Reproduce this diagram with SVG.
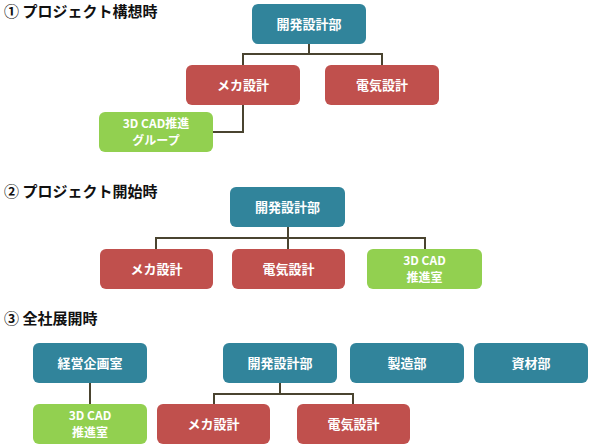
<svg xmlns="http://www.w3.org/2000/svg" width="590" height="446" viewBox="0 0 590 446">
<style>
.t{font-family:"Noto Sans CJK JP","Noto Sans",sans-serif;font-weight:bold;font-size:15px;fill:#111}
.n text{font-family:"Noto Sans CJK JP","Noto Sans",sans-serif;font-weight:bold;font-size:13px;fill:#fff;text-anchor:middle}
.n text.two{font-size:12px}
.b rect{fill:#31849B}
.r rect{fill:#C0504D}
.g rect{fill:#92D050}
#connectors path{fill:none;stroke:#4a4430;stroke-width:2}
</style>
<rect width="590" height="446" fill="#fff"/>
<text class="t" x="4" y="17">① プロジェクト構想時</text>
<text class="t" x="4" y="197">② プロジェクト開始時</text>
<text class="t" x="4" y="324">③ 全社展開時</text>
<g id="connectors">
<path d="M309,44V54M243,65V54H382V65M243,105V132H213"/>
<path d="M288,227V249M156,249V238H425V249"/>
<path d="M90,383V404M280,383V394M214,404V394H353V404"/>
</g>
<g id="s1-kaihatsu" class="n b"><rect x="252" y="4" width="114" height="40" rx="6"/><text x="309" y="28.5">開発設計部</text></g>
<g id="s1-meka" class="n r"><rect x="186" y="65" width="114" height="40" rx="6"/><text x="243" y="89.5">メカ設計</text></g>
<g id="s1-denki" class="n r"><rect x="325" y="65" width="114" height="40" rx="6"/><text x="382" y="89.5">電気設計</text></g>
<g id="s1-cad" class="n g"><rect x="99" y="112" width="114" height="40" rx="6"/><text class="two" x="156" y="127.5">3D CAD推進</text><text class="two" x="156" y="145">グループ</text></g>
<g id="s2-kaihatsu" class="n b"><rect x="230" y="187" width="115" height="40" rx="6"/><text x="287.5" y="211.5">開発設計部</text></g>
<g id="s2-meka" class="n r"><rect x="100" y="249" width="113" height="40" rx="6"/><text x="156.5" y="273.5">メカ設計</text></g>
<g id="s2-denki" class="n r"><rect x="232" y="249" width="113" height="40" rx="6"/><text x="288.5" y="273.5">電気設計</text></g>
<g id="s2-cad" class="n g"><rect x="367" y="249" width="115" height="40" rx="6"/><text class="two" x="424.5" y="264.5">3D CAD</text><text class="two" x="424.5" y="282">推進室</text></g>
<g id="s3-keiei" class="n b"><rect x="33" y="343" width="114" height="40" rx="6"/><text x="90" y="367.5">経営企画室</text></g>
<g id="s3-kaihatsu" class="n b"><rect x="223" y="343" width="114" height="40" rx="6"/><text x="280" y="367.5">開発設計部</text></g>
<g id="s3-seizou" class="n b"><rect x="350" y="343" width="114" height="40" rx="6"/><text x="407" y="367.5">製造部</text></g>
<g id="s3-shizai" class="n b"><rect x="474" y="343" width="114" height="40" rx="6"/><text x="531" y="367.5">資材部</text></g>
<g id="s3-cad" class="n g"><rect x="33" y="404" width="114" height="40" rx="6"/><text class="two" x="90" y="419.5">3D CAD</text><text class="two" x="90" y="437">推進室</text></g>
<g id="s3-meka" class="n r"><rect x="157" y="404" width="113" height="40" rx="6"/><text x="213.5" y="428.5">メカ設計</text></g>
<g id="s3-denki" class="n r"><rect x="297" y="404" width="113" height="40" rx="6"/><text x="353.5" y="428.5">電気設計</text></g>
</svg>
